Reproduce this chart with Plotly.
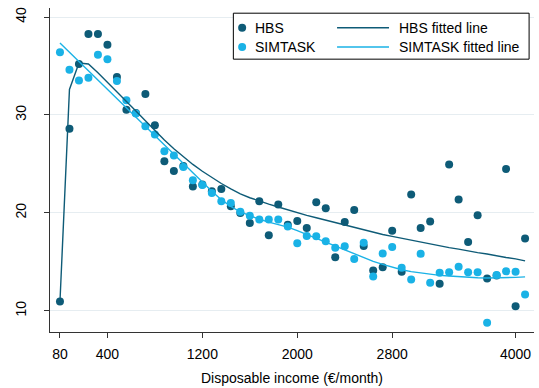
import plotly.graph_objects as go

# Income bins (bin index along the x axis) and labelled tick positions
bins = list(range(50))
tick_pos = [0, 5, 15, 25, 35, 48]
tick_text = ["80", "400", "1200", "2000", "2800", "4000"]

# Observed shares per income bin
hbs = [10.95, 28.6, 35.2, 38.27, 38.27, 37.17, 33.88, 30.54, 30.2, 32.14,
       28.94, 25.27, 24.29, 24.8, 22.7, 22.9, 22.2, 22.45, 20.67, 20.0,
       18.98, 21.18, 17.71, 20.85, 18.8, 19.18, 18.47, 21.08, 20.47, 15.47,
       19.08, 20.3, 16.63, 14.11, 14.45, 18.19, 13.98, 21.87, 18.47, 19.11,
       12.76, 24.93, 21.36, 17.04, 19.76, 13.3, 13.6, 24.49, 10.47, 17.38]
simtask = [36.39, 34.62, 33.53, 33.8, 36.15, 35.7, 33.47, 31.49, 30.16, 28.84,
           28.0, 26.29, 25.85, 24.69, 23.33, 22.86, 22.04, 21.19, 21.0, 20.13,
           19.72, 19.32, 19.32, 19.32, 18.6, 16.9, 17.65, 17.61, 17.1, 16.43,
           16.6, 15.3, 16.94, 13.5, 15.85, 16.53, 14.39, 13.19, 15.82, 12.86,
           13.88, 13.94, 14.49, 13.94, 13.94, 8.78, 13.67, 14.04, 13.98, 11.66]

# Smoothed (fitted) curves
hbs_fit = [10.95, 32.6, 35.3, 35.2, 34.3, 33.35, 32.4, 31.4, 30.4, 29.4,
           28.4, 27.45, 26.55, 25.7, 24.95, 24.25, 23.6, 23.0, 22.45, 21.95,
           21.55, 21.2, 20.9, 20.6, 20.3, 20.0, 19.75, 19.5, 19.25, 19.0,
           18.75, 18.5, 18.25, 18.0, 17.8, 17.6, 17.4, 17.2, 17.0, 16.8,
           16.6, 16.45, 16.3, 16.1, 15.95, 15.8, 15.6, 15.45, 15.3, 15.1]
simtask_fit = [37.35, 36.4, 35.45, 34.5, 33.55, 32.6, 31.65, 30.7, 29.75, 28.8,
               27.85, 26.9, 25.95, 25.0, 24.05, 23.1, 22.2, 21.35, 20.65, 20.1,
               19.7, 19.35, 19.05, 18.8, 18.55, 18.2, 17.8, 17.4, 17.0, 16.6,
               16.2, 15.8, 15.4, 15.05, 14.75, 14.45, 14.2, 14.0, 13.85, 13.72,
               13.62, 13.55, 13.48, 13.42, 13.38, 13.36, 13.36, 13.38, 13.42, 13.47]

DARK = "#0e5b77"
LIGHT = "#1ab2e6"
FONT = "Liberation Sans, Arial, sans-serif"

W, H = 539, 388
ML, MR, MT, MB = 50, 4.6, 8.3, 55.5
PW, PH = W - ML - MR, H - MT - MB


def px_to_paper(px, py):
    return (px - ML) / PW, (H - MB - py) / PH


fig = go.Figure()
fig.add_trace(go.Scatter(x=bins, y=hbs, mode="markers", name="HBS",
                         marker=dict(color=DARK, size=8, line=dict(width=0))))
fig.add_trace(go.Scatter(x=bins, y=simtask, mode="markers", name="SIMTASK",
                         marker=dict(color=LIGHT, size=8, line=dict(width=0))))
fig.add_trace(go.Scatter(x=bins, y=hbs_fit, mode="lines", name="HBS fitted line",
                         line=dict(color=DARK, width=1.4)))
fig.add_trace(go.Scatter(x=bins, y=simtask_fit, mode="lines", name="SIMTASK fitted line",
                         line=dict(color=LIGHT, width=1.4)))

# Boxed two-column legend
shapes = []
annotations = []
bx0, by0 = px_to_paper(233.5, 13.5)
bx1, by1 = px_to_paper(529.5, 59.5)
shapes.append(dict(type="rect", xref="paper", yref="paper", x0=bx0, y0=by1, x1=bx1, y1=by0,
                   line=dict(color="black", width=1), fillcolor="white", layer="above"))
rows = [("HBS", "HBS fitted line", DARK, 28.0), ("SIMTASK", "SIMTASK fitted line", LIGHT, 47.3)]
for mark_label, line_label, col, py in rows:
    mx, my = px_to_paper(242.3, py)
    shapes.append(dict(type="circle", xref="paper", yref="paper", xsizemode="pixel",
                       ysizemode="pixel", xanchor=mx, yanchor=my, x0=-4, x1=4, y0=-4, y1=4,
                       fillcolor=col, line=dict(width=0), layer="above"))
    lx0, ly = px_to_paper(337.3, py)
    lx1, _ = px_to_paper(389.3, py)
    shapes.append(dict(type="line", xref="paper", yref="paper", x0=lx0, x1=lx1, y0=ly, y1=ly,
                       line=dict(color=col, width=1.4), layer="above"))
    tx, ty = px_to_paper(253, py)
    annotations.append(dict(text=mark_label, x=tx, y=ty, xref="paper", yref="paper",
                            xanchor="left", yanchor="middle", showarrow=False,
                            font=dict(size=14, color="black", family=FONT)))
    tx2, _ = px_to_paper(397.5, py)
    annotations.append(dict(text=line_label, x=tx2, y=ty, xref="paper", yref="paper",
                            xanchor="left", yanchor="middle", showarrow=False,
                            font=dict(size=14, color="black", family=FONT)))

fig.update_layout(
    width=W, height=H,
    margin=dict(l=ML, r=MR, t=MT, b=MB, pad=0),
    paper_bgcolor="white", plot_bgcolor="white",
    font=dict(family=FONT, size=14, color="black"),
    showlegend=False,
    shapes=shapes, annotations=annotations,
    xaxis=dict(range=[-1.05, 49.94], tickmode="array", tickvals=tick_pos, ticktext=tick_text,
               showgrid=False, zeroline=False, showline=True, linecolor="#333", linewidth=1,
               ticks="outside", ticklen=5, tickcolor="#333", tickwidth=1,
               tickfont=dict(size=14), ticklabelstandoff=4,
               title=dict(text="Disposable income (€/month)", font=dict(size=14), standoff=12)),
    yaxis=dict(range=[7.84, 40.92], tickmode="array", tickvals=[10, 20, 30, 40],
               showgrid=True, gridcolor="#e6edf1", gridwidth=1, zeroline=False,
               showline=True, linecolor="#333", linewidth=1,
               ticks="outside", ticklen=5, tickcolor="#333", tickwidth=1,
               tickangle=-90, tickfont=dict(size=14), ticklabelstandoff=12),
)

fig.write_html("out.html")
